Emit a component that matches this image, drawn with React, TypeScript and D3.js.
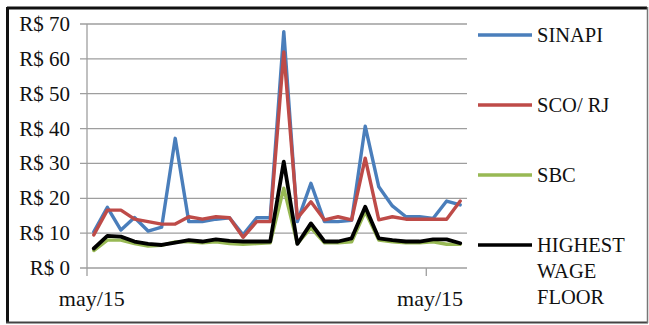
import React from "react";
import * as d3 from "d3";

// Monthly hourly-wage series (R$), 28 months
const sinapi = [10.4, 17.4, 10.9, 14.5, 10.6, 11.7, 37.2, 13.3, 13.3, 14.0, 14.4, 9.5, 14.4, 14.4, 67.8, 13.3, 24.3, 13.3, 13.3, 13.7, 40.7, 23.3, 17.8, 14.7, 14.7, 14.2, 19.2, 18.1];
const scoRj = [9.5, 16.6, 16.6, 14.0, 13.3, 12.6, 12.6, 14.7, 14.0, 14.7, 14.4, 8.8, 13.3, 13.3, 62.0, 14.3, 19.0, 13.8, 14.7, 13.8, 31.5, 13.8, 14.7, 14.0, 14.0, 14.0, 14.0, 19.2];
const sbc = [5.0, 8.0, 8.0, 7.0, 6.3, 6.5, 7.5, 7.5, 7.2, 7.5, 7.0, 6.8, 7.0, 7.2, 22.9, 7.0, 11.5, 7.2, 7.2, 7.5, 16.2, 8.0, 7.5, 7.2, 7.2, 7.5, 6.8, 6.8];
const highestWageFloor = [5.6, 9.2, 9.0, 7.6, 6.9, 6.6, 7.3, 8.0, 7.6, 8.2, 7.8, 7.6, 7.6, 7.6, 30.5, 6.9, 12.8, 7.6, 7.6, 8.5, 17.6, 8.5, 8.0, 7.6, 7.6, 8.2, 8.2, 7.1];

const yTicks = [0, 10, 20, 30, 40, 50, 60, 70];
const xLabelIndex = [0, 25];
const xLabels = ["may/15", "may/15"];
const xTickBoundaries = [0, 25];

const seriesNames = ["SINAPI", "SCO/ RJ", "SBC", "HIGHEST WAGE FLOOR"];
const seriesColors = ["#4A7EBB", "#BE4B48", "#98B954", "#000000"];
const seriesValues = [sinapi, scoRj, sbc, highestWageFloor];

const W = 649;
const H = 325;
const left = 87;
const right = 467;
const top = 24;
const bottom = 268;
const font = "Liberation Serif, Tinos, Times New Roman, DejaVu Serif, serif";

export default function App() {
  const n = sinapi.length;
  const x = d3.scaleLinear().domain([-0.5, n - 0.5]).range([left, right]);
  const y = d3.scaleLinear().domain([0, 70]).range([bottom, top]);
  const line = d3
    .line<number>()
    .x((_, i) => x(i))
    .y((d) => y(d));

  const legendY = [35, 105, 175, 245];
  const textStyle = { fontFamily: font };

  return (
    <svg
      width={W}
      height={H}
      style={{ position: "absolute", left: 0, top: 0, background: "#fff" }}
    >
      {/* frame */}
      <line x1={7} y1={8} x2={647} y2={8} stroke="#111" strokeWidth={3} />
      <line x1={7.5} y1={7} x2={7.5} y2={323} stroke="#111" strokeWidth={3} />
      <line x1={6} y1={322.5} x2={648} y2={322.5} stroke="#444" strokeWidth={2} />
      <line x1={647.5} y1={7} x2={647.5} y2={323} stroke="#777" strokeWidth={1.5} />

      {/* gridlines and value axis */}
      {yTicks.map((t) => (
        <g key={t}>
          <line x1={80} x2={right} y1={y(t)} y2={y(t)} stroke="#9e9e9e" strokeWidth={1.3} />
          <text
            x={70}
            y={y(t)}
            textAnchor="end"
            dominantBaseline="central"
            style={textStyle}
            fontSize={21}
            fill="#111"
          >
            {`R$ ${t}`}
          </text>
        </g>
      ))}
      <line x1={left} x2={left} y1={top} y2={bottom} stroke="#9e9e9e" strokeWidth={1.3} />

      {/* category axis ticks and labels */}
      {xTickBoundaries.map((b) => (
        <line
          key={b}
          x1={x(b - 0.5)}
          x2={x(b - 0.5)}
          y1={bottom}
          y2={bottom + 8}
          stroke="#9e9e9e"
          strokeWidth={1.3}
        />
      ))}
      {xLabelIndex.map((idx, k) => (
        <text
          key={k}
          x={x(idx) - (k === 0 ? 2 : 3)}
          y={306}
          textAnchor="middle"
          style={textStyle}
          fontSize={22}
          fill="#111"
        >
          {xLabels[k]}
        </text>
      ))}

      {/* series */}
      {seriesValues.map((vals, s) => (
        <path
          key={s}
          d={line(vals) ?? ""}
          fill="none"
          stroke={seriesColors[s]}
          strokeWidth={s === 3 ? 3.8 : 3.4}
          strokeLinejoin="round"
          strokeLinecap="round"
        />
      ))}

      {/* legend */}
      {seriesNames.map((name, s) => {
        const words = s === 3 ? ["HIGHEST", "WAGE", "FLOOR"] : [name];
        return (
          <g key={name}>
            <line
              x1={478}
              x2={532}
              y1={legendY[s]}
              y2={legendY[s]}
              stroke={seriesColors[s]}
              strokeWidth={3.4}
            />
            {words.map((w, k) => (
              <text
                key={w}
                x={537}
                y={legendY[s] + k * 26}
                dominantBaseline="central"
                style={textStyle}
                fontSize={20.5}
                fill="#111"
              >
                {w}
              </text>
            ))}
          </g>
        );
      })}
    </svg>
  );
}
